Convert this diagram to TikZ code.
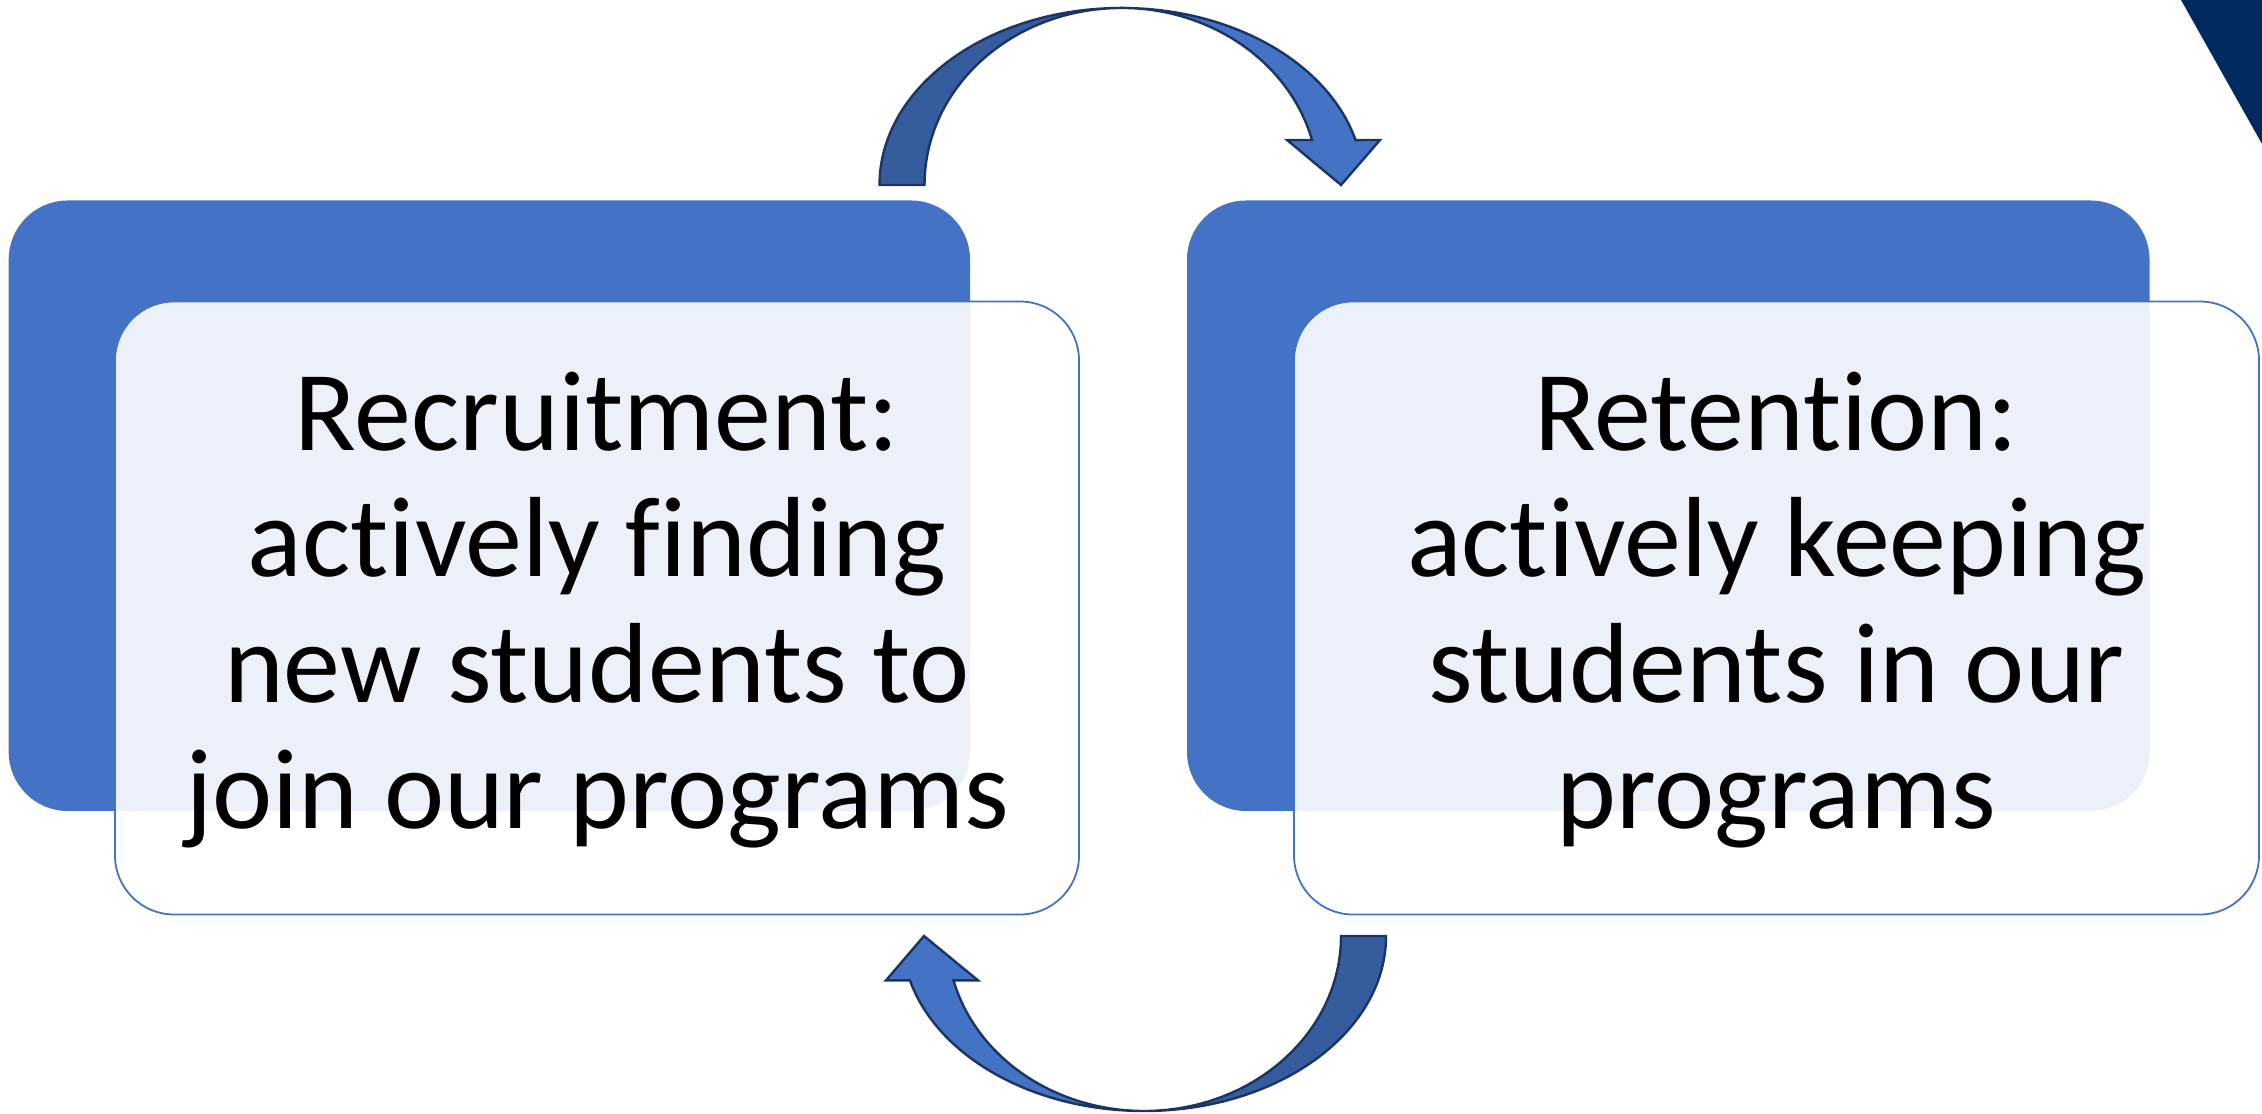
\documentclass[tikz,border=0pt]{standalone}
\usepackage{fontspec}
\setmainfont{Carlito}[Ligatures=NoCommon, Contextuals=NoAlternate]
\definecolor{accent}{HTML}{4472C4}
\definecolor{accdark}{HTML}{355D9E}
\definecolor{navy}{HTML}{1B3462}
\definecolor{corner}{HTML}{002A5F}
\tikzset{
  backbox/.style={fill=accent, draw=none, rounded corners=29.5pt},
  frontbox/.style={fill=white, fill opacity=0.9, draw=accent, line width=0.9pt, rounded corners=29.5pt},
  bodytext/.style={align=center, text=black, font=\fontsize{57}{63}\selectfont},
  arrowdark/.style={fill=accdark, draw=navy, line width=1.2pt, line join=miter},
  arrowlight/.style={fill=accent, draw=navy, line width=1.2pt, line join=miter},
}
\begin{document}
\begin{tikzpicture}[x=0.5pt, y=0.5pt]
\useasboundingbox (0,0) rectangle (2262,1113);
% corner triangle
\fill[corner] (2181,1113) -- (2262,969) -- (2262,1113) -- cycle;
% back boxes
\path[backbox] (8.7,302) rectangle (970,912.5);
\path[backbox] (1187,302) rectangle (2149.5,912.5);
% front boxes
\draw[frontbox] (115,198.5) rectangle (1079,811.5);
\draw[frontbox] (1294,198.5) rectangle (2259,811.5);
\node[bodytext] (rec) at (597,503) {Recruitment:\\actively finding\\new students to\\join our programs};
\node[bodytext] (ret) at (1776.5,503) {Retention:\\actively keeping\\students in our\\programs};
% top arrow
\draw[arrowdark] (879.5,928) arc[start angle=180, end angle=90, x radius=242, y radius=177]
  arc[start angle=90, end angle=180, x radius=197, y radius=177] -- cycle;
\draw[arrowlight] (1121.5,1105) arc[start angle=90, end angle=14.7, x radius=242, y radius=177]
  -- (1380,973) -- (1341,928) -- (1287,973) -- (1312,973)
  arc[start angle=14.7, end angle=90, x radius=197, y radius=177] -- cycle;
% bottom arrow
\draw[arrowdark] (1386,177) arc[start angle=0, end angle=-90, x radius=242, y radius=175]
  arc[start angle=-90, end angle=0, x radius=197, y radius=175] -- cycle;
\draw[arrowlight] (1144,2) arc[start angle=270, end angle=194.7, x radius=242, y radius=175]
  -- (886,132.6) -- (924,177) -- (978,132.6) -- (953.5,132.6)
  arc[start angle=194.7, end angle=270, x radius=197, y radius=175] -- cycle;
\end{tikzpicture}
\end{document}
